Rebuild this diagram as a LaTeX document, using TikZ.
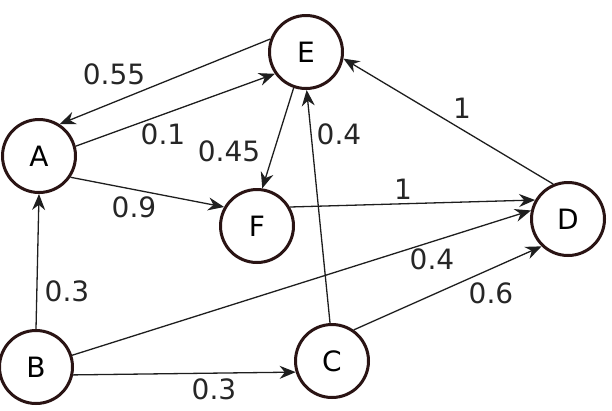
\documentclass[tikz,border=0pt]{standalone}
\usepackage{fontspec}
\setmainfont{DejaVu Sans}
\usetikzlibrary{arrows.meta}
\definecolor{ringcol}{HTML}{2A1414}
\definecolor{wire}{HTML}{1E1E1E}

\begin{document}
\begin{tikzpicture}[
		x=1pt, y=-1pt,
		vertex/.style={circle, draw=ringcol, line width=3pt, minimum size=73pt, inner sep=0pt, font=\fontsize{28}{30}\selectfont},
		link/.style={-{Stealth[length=16pt, width=13pt]}, draw=wire, line width=1.3pt},
		weight/.style={font=\fontsize{28}{30}\selectfont, text=black!85}
	]
		\useasboundingbox (0,0) rectangle (612,410);

		\node[vertex] (E) at (306,52) {E};
		\node[vertex] (A) at (39,156) {A};
		\node[vertex] (F) at (257,226) {F};
		\node[vertex] (D) at (568,219) {D};
		\node[vertex] (B) at (36,367) {B};
		\node[vertex] (C) at (332,361) {C};

		\draw[link] (E.160) -- (A.57);
		\draw[link] (A.15) -- (E.215);
		\draw[link] (E.251) -- (F.82);
		\draw[link] (A.-34) -- (F.150);
		\draw[link] (F.30) -- (D.150);
		\draw[link] (D.113) -- (E.350);
		\draw[link] (C.93) -- (E.271);
		\draw[link] (B.north) -- (A.south);
		\draw[link] (B.18) -- (D.167);
		\draw[link] (B.-12) -- (C.197);
		\draw[link] (C.55) -- (D.226);

		\node[weight] (wEA) at (114,74) {0.55};
		\node[weight] (wAE) at (163,134) {0.1};
		\node[weight] (wEF) at (229,151) {0.45};
		\node[weight] (wAF) at (134,207) {0.9};
		\node[weight] (wCE) at (339,134) {0.4};
		\node[weight] (wDE) at (462,108) {1};
		\node[weight] (wFD) at (403,189) {1};
		\node[weight] (wBD) at (432,259) {0.4};
		\node[weight] (wCD) at (491,293) {0.6};
		\node[weight] (wBA) at (67,291) {0.3};
		\node[weight] (wBC) at (214,389) {0.3};
	\end{tikzpicture}
\end{document}
